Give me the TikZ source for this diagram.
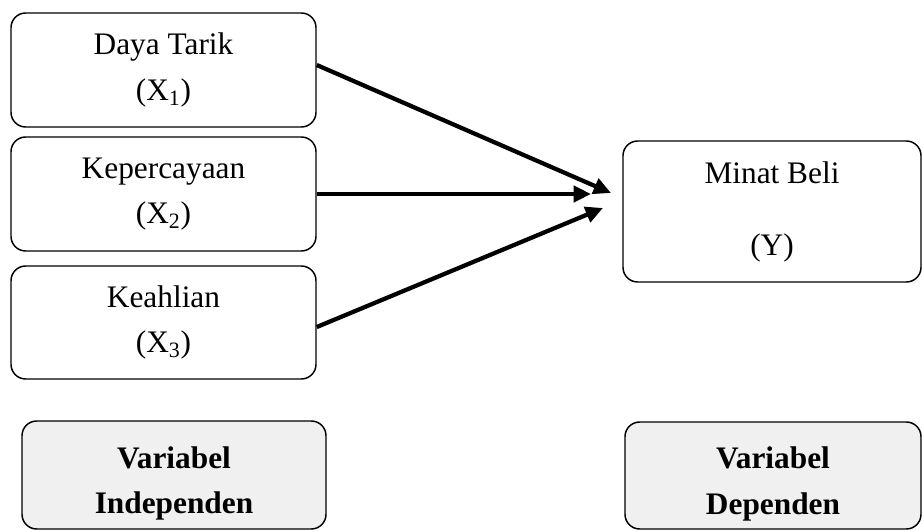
\documentclass[tikz,border=0pt]{standalone}
\usepackage{fontspec}
\setmainfont{Liberation Serif}
\usetikzlibrary{arrows.meta}
\definecolor{boxgray}{RGB}{240,240,240}
\begin{document}
\begin{tikzpicture}[x=0.75pt,y=-0.75pt,
  box/.style={draw,line width=1.1pt,rounded corners=11pt,align=center,inner sep=0pt,
    font=\fontsize{23.5}{34}\selectfont},
  varbox/.style={box,fill=boxgray,font=\bfseries\fontsize{23.5}{34}\selectfont},
  conn/.style={line width=3.2pt,-{Triangle[length=13pt,width=12pt]}}]
\useasboundingbox (0,0) rectangle (922,531);
\node[box,minimum width=228.75pt,minimum height=85.5pt] (b1) at (163.5,70) {Daya Tarik\\(X\textsubscript{1})};
\node[box,minimum width=228.75pt,minimum height=85.5pt] (b2) at (163.5,194) {Kepercayaan\\(X\textsubscript{2})};
\node[box,minimum width=228.75pt,minimum height=84.75pt] (b3) at (163.5,322.5) {Keahlian\\(X\textsubscript{3})};
\node[box,minimum width=223.5pt,minimum height=105.75pt] (y) at (772,211.5) {Minat Beli\\[20pt](Y)};
\node[varbox,minimum width=228pt,minimum height=81pt] (vi) at (174,475) {\rule{0pt}{29pt}Variabel\\Independen};
\node[varbox,minimum width=222pt,minimum height=80.25pt] (vd) at (773,475.5) {\rule{0pt}{29pt}Variabel\\Dependen};
\coordinate (t1) at (611,193);
\coordinate (t2) at (591,194);
\coordinate (t3) at (603,208);
\draw[conn] ([yshift=3.75pt]b1.east) -- (t1);
\draw[conn] (b2.east) -- (t2);
\draw[conn] ([yshift=-3.4pt]b3.east) -- (t3);
\end{tikzpicture}
\end{document}
